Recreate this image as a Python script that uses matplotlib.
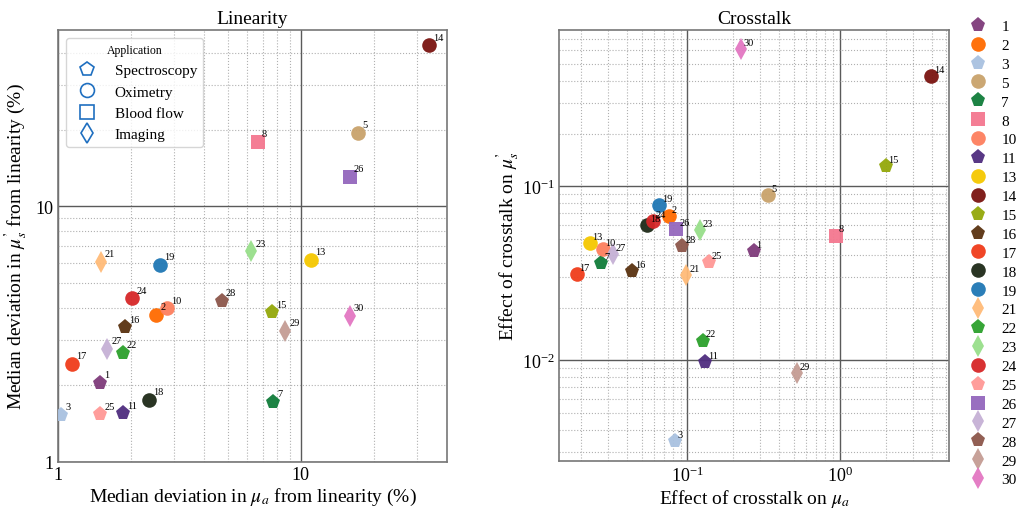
import matplotlib
matplotlib.use("Agg")
import matplotlib.pyplot as plt
from matplotlib.lines import Line2D
from matplotlib.ticker import LogLocator, FuncFormatter, NullFormatter

plt.rcParams['font.family'] = ['Liberation Serif', 'DejaVu Serif']
plt.rcParams['mathtext.fontset'] = 'stix'

ids = [1, 2, 3, 5, 7, 8, 10, 11, 13, 14, 15, 16, 17, 18, 19, 21, 22, 23, 24, 25, 26, 27, 28, 29, 30]
application = ['Spectroscopy', 'Oximetry', 'Spectroscopy', 'Oximetry', 'Spectroscopy', 'Blood flow',
               'Oximetry', 'Spectroscopy', 'Oximetry', 'Oximetry', 'Spectroscopy', 'Spectroscopy',
               'Oximetry', 'Oximetry', 'Oximetry', 'Imaging', 'Spectroscopy', 'Imaging', 'Oximetry',
               'Spectroscopy', 'Blood flow', 'Imaging', 'Spectroscopy', 'Imaging', 'Imaging']
colors = ['#7e3b7a', '#ff6a00', '#a9c1e0', '#c9a26b', '#107c3a', '#f4778f', '#fd7f5e', '#4f2d7f',
          '#f5c800', '#7a1410', '#94a80a', '#5a3210', '#f03c1a', '#1e2a18', '#1f77b4', '#ffbb78',
          '#2ca02c', '#98df8a', '#d62728', '#ff9896', '#9467bd', '#c5b0d5', '#8c564b', '#c49c94',
          '#e377c2']

lin_mua = [1.49, 2.53, 1.03, 17.2, 7.67, 6.65, 2.81, 1.85, 11.0, 33.6, 7.6, 1.89, 1.14, 2.37, 2.63,
           1.50, 1.85, 6.23, 2.02, 1.49, 15.9, 1.59, 4.73, 8.6, 15.9]
lin_mus = [2.04, 3.76, 1.53, 19.4, 1.72, 17.9, 4.0, 1.55, 6.17, 42.8, 3.86, 3.37, 2.42, 1.75, 5.9,
           6.06, 2.67, 6.69, 4.38, 1.54, 13.1, 2.77, 4.27, 3.26, 3.73]
xt_mua = [0.272, 0.0754, 0.083, 0.338, 0.0272, 0.94, 0.0277, 0.131, 0.0228, 3.96, 2.0, 0.0433, 0.0187,
          0.0543, 0.065, 0.0985, 0.126, 0.12, 0.0594, 0.139, 0.0847, 0.0325, 0.0927, 0.524, 0.224]
xt_mus = [0.0426, 0.0676, 0.00344, 0.0888, 0.0362, 0.052, 0.0436, 0.0098, 0.047, 0.428, 0.13, 0.0325,
          0.0313, 0.0601, 0.078, 0.031, 0.013, 0.0562, 0.0633, 0.0366, 0.0567, 0.0408, 0.0454, 0.0085,
          0.608]

app_names = ['Spectroscopy', 'Oximetry', 'Blood flow', 'Imaging']
app_markers = {'Spectroscopy': 'p', 'Oximetry': 'o', 'Blood flow': 's', 'Imaging': 'd'}
msize = {'p': 11, 'o': 10.5, 's': 10, 'd': 11}

fig = plt.figure(figsize=(10.16, 5.10), dpi=100)
ax1 = fig.add_axes([0.0571, 0.0922, 0.3829, 0.8468])
ax2 = fig.add_axes([0.5502, 0.0941, 0.3838, 0.8449])


def style_axis(ax):
    ax.set_xscale('log')
    ax.set_yscale('log')
    ax.xaxis.set_minor_locator(LogLocator(base=10, subs=range(2, 10), numticks=20))
    ax.yaxis.set_minor_locator(LogLocator(base=10, subs=range(2, 10), numticks=20))
    ax.xaxis.set_minor_formatter(NullFormatter())
    ax.yaxis.set_minor_formatter(NullFormatter())
    ax.grid(True, which='major', color='#5a5a5a', linestyle='-', linewidth=1.0)
    ax.grid(True, which='minor', color='#b0b0b0', linestyle=':', linewidth=0.8)
    ax.set_axisbelow(True)
    ax.tick_params(which='both', length=0, labelsize=13, pad=3)
    for s in ax.spines.values():
        s.set_color('#777777')
        s.set_linewidth(1.2)


handles = []
for i, pid in enumerate(ids):
    m = app_markers[application[i]]
    ax1.plot(lin_mua[i], lin_mus[i], linestyle='none', marker=m, markersize=msize[m],
             color=colors[i], markeredgewidth=0, alpha=0.95, zorder=3)
    ax1.annotate(str(pid), (lin_mua[i], lin_mus[i]), xytext=(3, 4), textcoords='offset points',
                 fontsize=7.5, zorder=4)
    h, = ax2.plot(xt_mua[i], xt_mus[i], linestyle='none', marker=m, markersize=msize[m],
                  color=colors[i], markeredgewidth=0, alpha=0.95, zorder=3, label=str(pid))
    handles.append(h)
    ax2.annotate(str(pid), (xt_mua[i], xt_mus[i]), xytext=(2, 3), textcoords='offset points',
                 fontsize=7.5, zorder=4)

style_axis(ax1)
ax1.set_xlim(1, 40)
ax1.set_ylim(1, 49)
fmt = FuncFormatter(lambda v, p: '%g' % v)
ax1.xaxis.set_major_formatter(fmt)
ax1.yaxis.set_major_formatter(fmt)
ax1.set_title('Linearity', fontsize=14, pad=5)
ax1.set_xlabel(r"Median deviation in $\mu_a$ from linearity (%)", fontsize=14, labelpad=2)
ax1.set_ylabel("Median deviation in $\\mu_s^{\u2019}$ from linearity (%)", fontsize=14, labelpad=4)

app_handles = [Line2D([], [], linestyle='none', marker=app_markers[a], markersize=10,
                      markerfacecolor='none', markeredgecolor='#1f6fc0', markeredgewidth=1.2,
                      label=a) for a in app_names]
leg1 = ax1.legend(handles=app_handles, title='Application', loc='upper left',
                  bbox_to_anchor=(0.0, 1.0), borderaxespad=0.5, fontsize=11, title_fontsize=8.5,
                  frameon=True, labelspacing=0.5, handletextpad=0.8)
leg1.get_frame().set_edgecolor('#cccccc')

style_axis(ax2)
ax2.set_xlim(0.01435, 5.2)
ax2.set_ylim(0.00265, 0.785)
ax2.set_title('Crosstalk', fontsize=14, pad=5)
ax2.set_xlabel(r"Effect of crosstalk on $\mu_a$", fontsize=14, labelpad=2)
ax2.set_ylabel("Effect of crosstalk on $\\mu_s^{\u2019}$", fontsize=14, labelpad=0)

fig.legend(handles=handles, loc='upper left', bbox_to_anchor=(0.948, 0.96), frameon=False,
           fontsize=11, labelspacing=0.34, handletextpad=0.5, borderaxespad=0, borderpad=0)

fig.savefig('out.png', dpi=100)
